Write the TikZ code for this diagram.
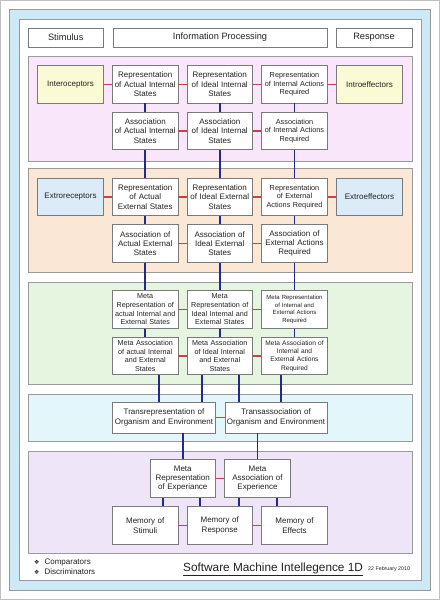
\documentclass[tikz,border=0pt]{standalone}
\usepackage{fontspec}
\setmainfont{Liberation Sans}
\newfontfamily\symfont{DejaVu Sans}
\usetikzlibrary{calc}
\definecolor{outerblue}{HTML}{CDE9F7}
\definecolor{framegray}{HTML}{9A9A9A}
\definecolor{boxgray}{HTML}{7A7A7A}
\definecolor{pinkp}{HTML}{FAE6FA}
\definecolor{orangep}{HTML}{FBE7D6}
\definecolor{greenp}{HTML}{E6F5DF}
\definecolor{cyanp}{HTML}{E3F6FA}
\definecolor{lavp}{HTML}{EEE6F8}
\definecolor{yellowbox}{HTML}{FAFAD4}
\definecolor{bluebox}{HTML}{DCEBF8}
\definecolor{linkblue}{HTML}{232A8C}
\definecolor{linkred}{HTML}{C4424C}
\definecolor{txt}{HTML}{222222}
\begin{document}
\begin{tikzpicture}[x=1pt,y=-1pt,
  panel/.style={draw=framegray, line width=0.9pt},
  box/.style={draw=boxgray, fill=white, line width=0.9pt, minimum width=65.5pt, minimum height=37.5pt,
    inner sep=0pt, align=center, text width=64pt, text=txt, font=\fontsize{8}{9.3}\selectfont},
  hdr/.style={draw=boxgray, fill=white, line width=0.9pt, minimum height=19pt, inner sep=0pt,
    text=txt, font=\fontsize{9.2}{11}\selectfont},
  vlink/.style={draw=linkblue, line width=1.6pt},
  hlink/.style={draw=linkred, line width=1.4pt},
  small/.style={font=\fontsize{7.3}{8.8}\selectfont},
  tiny/.style={font=\fontsize{6}{7.6}\selectfont},
  mid/.style={font=\fontsize{7.2}{8.7}\selectfont}]
\useasboundingbox (0,0) rectangle (440,600);
% page frame
\draw[draw=black!25, line width=0.8pt] (0.5,0.5) rectangle (439.5,599.5);
\draw[panel, fill=outerblue] (9.5,9.5) rectangle (430.5,590.5);
\draw[panel, fill=white] (19,19) rectangle (421,580);
% header
\node[hdr, minimum width=74.5pt] (hs) at (65.75,37.5) {Stimulus};
\node[hdr, minimum width=214pt] (hi) at (220,37.5) {Information Processing};
\node[hdr, minimum width=76pt] (hr) at (374,37.5) {Response};
% panels
\draw[panel, fill=pinkp] (28.5,56) rectangle (412,161);
\draw[panel, fill=orangep] (28.5,168) rectangle (412,272);
\draw[panel, fill=greenp] (28.5,282) rectangle (412,384);
\draw[panel, fill=cyanp] (28.5,394) rectangle (412,441);
\draw[panel, fill=lavp] (28.5,451) rectangle (412,553);
% pink panel
\node[box, fill=yellowbox] (pa0) at (70.5,84.25) {Interoceptors};
\node[box] (pa1) at (145.25,84.25) {Representation\\of Actual Internal\\States};
\node[box] (pa2) at (219.75,84.25) {Representation\\of Ideal Internal\\States};
\node[box, small] (pa3) at (294.5,84.25) {Representation\\of Internal Actions\\Required};
\node[box, fill=yellowbox] (pa4) at (369.5,84.25) {Introeffectors};
\node[box] (pb1) at (145.25,131) {Association\\of Actual Internal\\States};
\node[box] (pb2) at (219.75,131) {Association\\of Ideal Internal\\States};
\node[box, small] (pb3) at (294.5,131) {Association\\of Internal Actions\\Required};
% orange panel
\node[box, fill=bluebox] (oa0) at (70.5,197) {Extroreceptors};
\node[box] (oa1) at (145.25,197) {Representation\\of Actual\\External States};
\node[box] (oa2) at (219.75,197) {Representation\\of Ideal External\\States};
\node[box, small] (oa3) at (294.5,197) {Representation\\of External\\Actions Required};
\node[box, fill=bluebox] (oa4) at (369.5,197) {Extroeffectors};
\node[box] (ob1) at (145.25,243.5) {Association of\\Actual External\\States};
\node[box] (ob2) at (219.75,243.5) {Association of\\Ideal External\\States};
\node[box] (ob3) at (294.5,243.5) {Association of\\External Actions\\Required};
% green panel
\node[box, mid] (ga1) at (145.25,309.5) {Meta\\Representation of\\actual Internal and\\External States};
\node[box, mid] (ga2) at (219.75,309.5) {Meta\\Representation of\\Ideal Internal and\\External States};
\node[box, tiny] (ga3) at (294.5,309.5) {Meta Representation\\of Internal and\\External Actions\\Required};
\node[box, mid] (gb1) at (145.25,356) {Meta Association\\of actual Internal\\and External\\States};
\node[box, mid] (gb2) at (219.75,356) {Meta Association\\of Ideal Internal\\and External\\States};
\node[box, font=\fontsize{6.6}{8.3}\selectfont] (gb3) at (294.5,356) {Meta Association of\\Internal and\\External Actions\\Required};
% cyan panel
\node[box, minimum width=103pt, minimum height=31pt, text width=101pt] (t1) at (164,417.5) {Transrepresentation of\\Organism and Environment};
\node[box, minimum width=102pt, minimum height=31pt, text width=100pt] (t2) at (276,417.5) {Transassociation of\\Organism and Environment};
% lavender panel
\node[box] (e1) at (182.75,478.5) {Meta\\Representation\\of Experiance};
\node[box] (e2) at (257.5,478.5) {Meta\\Association of\\Experience};
\node[box] (m1) at (145.25,525.5) {Memory of\\Stimuli};
\node[box] (m2) at (219.75,525.5) {Memory of\\Response};
\node[box] (m3) at (294.5,525.5) {Memory of\\Effects};
% red horizontal links
\foreach \a/\b in {pa0/pa1,pa1/pa2,pa2/pa3,pa3/pa4,pb1/pb2,pb2/pb3,
                   oa0/oa1,oa1/oa2,oa2/oa3,oa3/oa4,ob1/ob2,ob2/ob3,
                   ga1/ga2,ga2/ga3,gb1/gb2,gb2/gb3,t1/t2,e1/e2,m1/m2,m2/m3}
  \draw[hlink] (\a.east) -- (\b.west);
% blue vertical links
\foreach \a/\b in {pa1/pb1,pa2/pb2,pa3/pb3,pb1/oa1,pb2/oa2,pb3/oa3,
                   oa1/ob1,oa2/ob2,oa3/ob3,ob1/ga1,ob2/ga2,ob3/ga3,
                   ga1/gb1,ga2/gb2,ga3/gb3}
  \draw[vlink] (\a.south) -- (\b.north);
\draw[vlink] ([xshift=14pt]gb1.south) -- ([xshift=14pt]gb1.south |- t1.north);
\draw[vlink] ([xshift=-18pt]gb2.south) -- ([xshift=-18pt]gb2.south |- t1.north);
\draw[vlink] ([xshift=19pt]gb2.south) -- ([xshift=19pt]gb2.south |- t2.north);
\draw[vlink] ([xshift=-13.5pt]gb3.south) -- ([xshift=-13.5pt]gb3.south |- t2.north);
\draw[vlink] (e1.north) -- (e1.north |- t1.south);
\draw[vlink] (e2.north) -- (e2.north |- t2.south);
\draw[vlink] ([xshift=-19.5pt]e1.south) -- ([xshift=-19.5pt]e1.south |- m1.north);
\draw[vlink] ([xshift=17pt]e1.south) -- ([xshift=17pt]e1.south |- m2.north);
\draw[vlink] ([xshift=-18.5pt]e2.south) -- ([xshift=-18.5pt]e2.south |- m2.north);
\draw[vlink] ([xshift=19.5pt]e2.south) -- ([xshift=19.5pt]e2.south |- m3.north);
% footer
\node[anchor=west, inner sep=0pt, text=txt, font=\fontsize{8}{9}\selectfont] (c1) at (34,563) {{\symfont\fontsize{6}{7}\selectfont ❖}\hspace{5pt}Comparators};
\node[anchor=west, inner sep=0pt, text=txt, font=\fontsize{8}{9}\selectfont] (c2) at (34,572) {{\symfont\fontsize{6}{7}\selectfont ❖}\hspace{5pt}Discriminators};
\node[anchor=base west, inner sep=0pt, text=txt, font=\fontsize{11.8}{13}\selectfont] (title) at (183,571) {\underline{Software Machine Intellegence 1D}};
\node[anchor=base west, inner sep=0pt, text=txt, font=\fontsize{5.3}{6}\selectfont] (date) at (368,570) {22 February 2010};
\end{tikzpicture}
\end{document}
